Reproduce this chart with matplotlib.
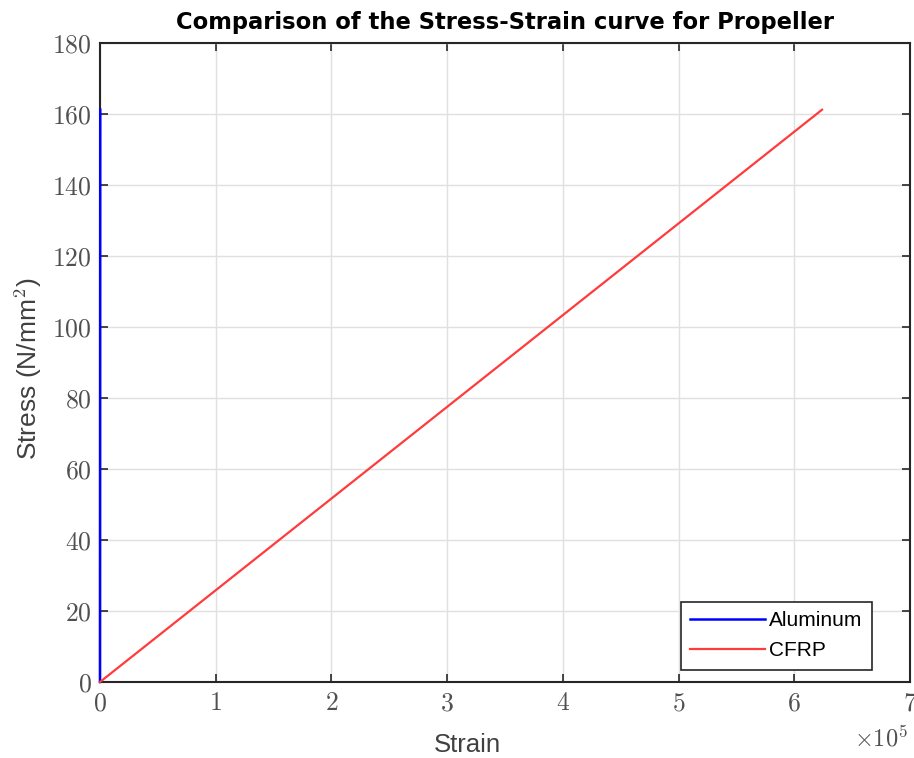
import matplotlib
matplotlib.use("Agg")
import matplotlib.pyplot as plt
from matplotlib.ticker import FuncFormatter

# datos
stress = [0, 161.2]
strain_al = [0, 230]
strain_cfrp = [0, 6.24e5]

x_ticks = [0, 1e5, 2e5, 3e5, 4e5, 5e5, 6e5, 7e5]
y_ticks = [0, 20, 40, 60, 80, 100, 120, 140, 160, 180]

plt.rcParams['mathtext.fontset'] = 'cm'

fig = plt.figure(figsize=(9.14, 7.58), dpi=100)
ax = fig.add_axes([0.1094, 0.1003, 0.8862, 0.843])

ax.plot(strain_al, stress, color='#0000ff', lw=1.8, label='Aluminum',
        zorder=3, clip_on=False)
ax.plot(strain_cfrp, stress, color='#ff3b3b', lw=1.6, label='CFRP',
        zorder=3, clip_on=False)

ax.set_xlim(0, 7e5)
ax.set_ylim(0, 180)
ax.set_xticks(x_ticks)
ax.set_yticks(y_ticks)
ax.xaxis.set_major_formatter(FuncFormatter(lambda v, p: f'${v/1e5:g}$'))
ax.yaxis.set_major_formatter(FuncFormatter(lambda v, p: f'${v:g}$'))

ax.grid(True, color='#e0e0e0', lw=1)
ax.set_axisbelow(True)
ax.tick_params(direction='in', length=6, width=1.2, colors='#262626',
               labelcolor='#505050', labelsize=18.5, top=True, right=True, pad=6)
for s in ax.spines.values():
    s.set_color('#262626')
    s.set_linewidth(1.5)

ax.set_title('Comparison of the Stress-Strain curve for Propeller',
             fontsize=16.3, fontweight='bold', pad=10)
fig.text(28 / 914, 1 - 369 / 758, 'Stress (N/mm$^2$)', fontsize=19,
         color='#404040', fontfamily='Liberation Sans', rotation=90,
         ha='center', va='center')
fig.text(467 / 914, 1 - 745 / 758, 'Strain', fontsize=18.5, color='#404040',
         fontfamily='Liberation Sans', ha='center', va='center')
fig.text(881 / 914, 1 - 738 / 758, r'$\times10^5$', fontsize=17.5, color='#505050',
         ha='center', va='center')

leg = ax.legend(loc='lower right', bbox_to_anchor=(0.953, 0.019),
                prop={'family': 'Liberation Sans', 'size': 15},
                fancybox=False, framealpha=1, edgecolor='#262626',
                handlelength=3.6, borderpad=0.45, labelspacing=0.55,
                handletextpad=0.2, borderaxespad=0)
leg.get_frame().set_linewidth(1.2)

fig.savefig('out.png', dpi=100)
